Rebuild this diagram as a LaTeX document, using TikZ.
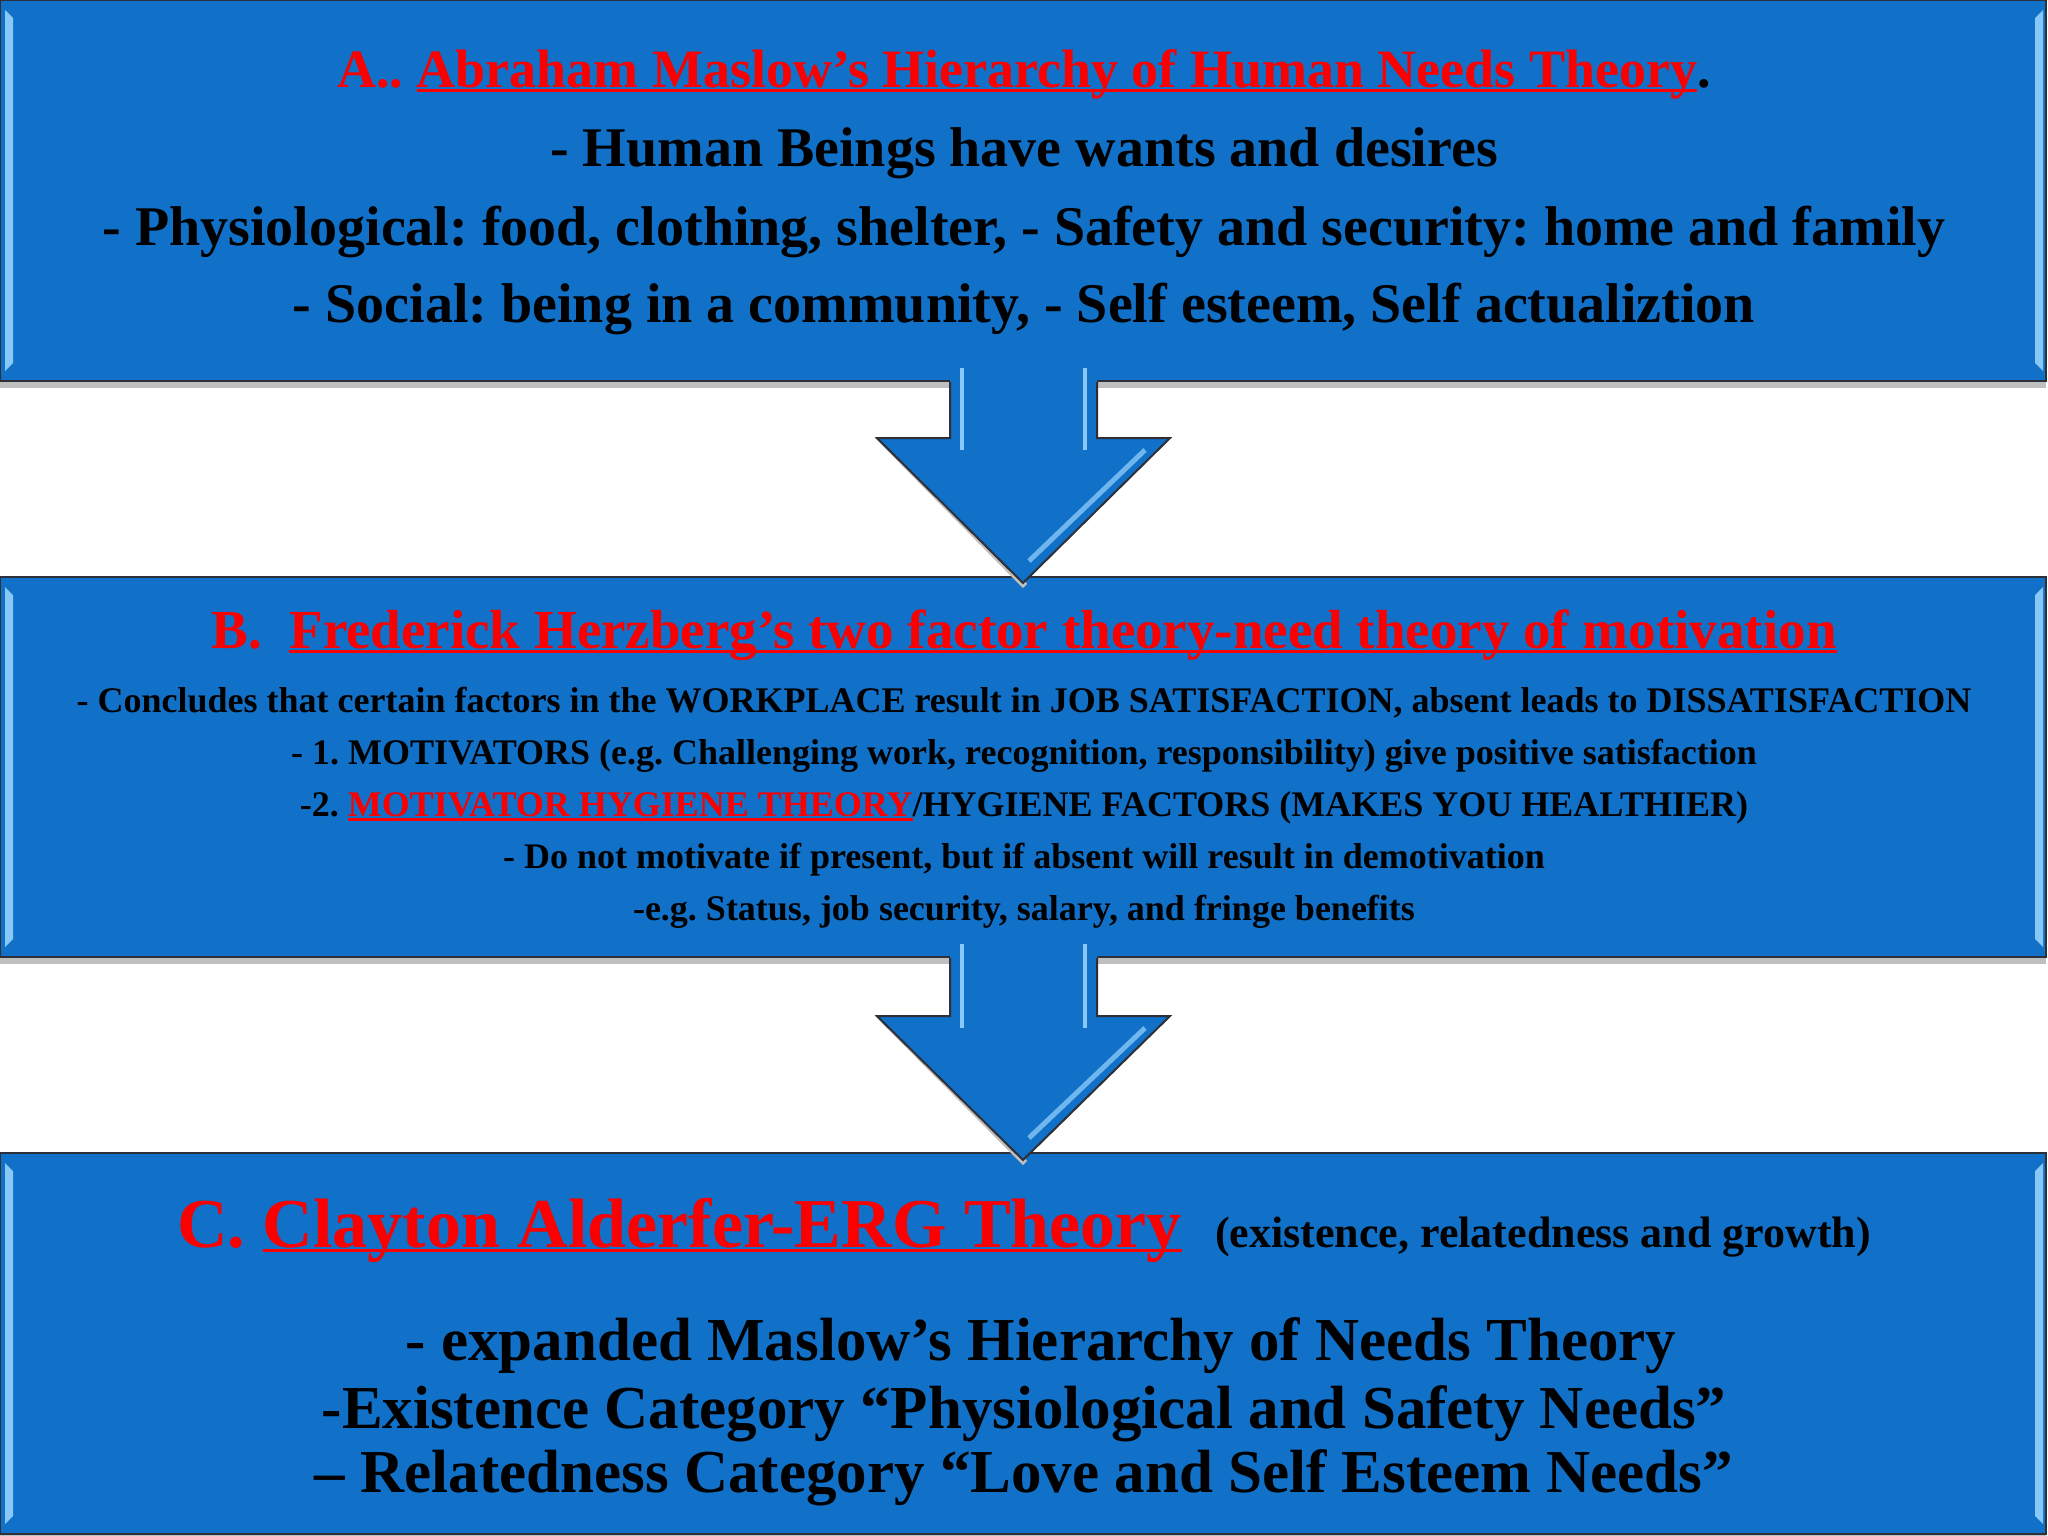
\documentclass[tikz,border=0pt]{standalone}
\usepackage{fontspec}
\setmainfont{Liberation Serif}
\usepackage{tikz}
\frenchspacing

\definecolor{boxblue}{RGB}{17,112,199}
\definecolor{edgelight}{RGB}{135,200,248}
\definecolor{edgedark}{RGB}{45,48,56}
\definecolor{titlered}{RGB}{250,0,0}

% thick underline, close under the baseline
\newsavebox{\ulbox}
\newcommand{\thickul}[1]{\sbox{\ulbox}{#1}\rlap{\rule[-4.5pt]{\wd\ulbox}{3pt}}\usebox{\ulbox}}

\tikzset{
  panel/.style={fill=boxblue, draw=edgedark, line width=2pt},
  txtline/.style={anchor=base, inner sep=0pt, text=black},
  titleA/.style={txtline, font=\fontsize{54}{60}\selectfont\bfseries},
  lineA/.style={txtline, font=\fontsize{56}{62}\selectfont\bfseries},
  titleB/.style={txtline, font=\fontsize{55}{60}\selectfont\bfseries},
  lineB/.style={txtline, font=\fontsize{36}{40}\selectfont\bfseries},
  titleC/.style={txtline, font=\fontsize{70}{76}\selectfont\bfseries},
  noteC/.style={txtline, font=\fontsize{44}{48}\selectfont\bfseries},
  lineC/.style={txtline, font=\fontsize{61}{66}\selectfont\bfseries}
}

\begin{document}
\begin{tikzpicture}[x=1pt,y=1pt,yscale=-1]
\useasboundingbox (0,0) rectangle (2048,1536);
\fill[white] (0,0) rectangle (2048,1536);

% three panels
\foreach \ya/\yb in {0/381, 577/957, 1153/1534} {
  \fill[black!25] (0,\yb) rectangle (2046,\yb+7);
  \draw[panel] (0,\ya) rectangle (2046,\yb);
  \fill[edgelight] (5,\ya+10) -- (13,\ya+18) -- (13,\yb-18) -- (5,\yb-10) -- cycle;
  \fill[edgelight] (2043,\ya+10) -- (2035,\ya+18) -- (2035,\yb-18) -- (2043,\yb-10) -- cycle;
}

% block arrows between the panels
\foreach \yb/\yh/\yt in {381/438/583, 957/1016/1160} {
  \draw[black!25, line width=6pt] (952,\yb+4) -- (952,\yh+3) -- (882,\yh+3) -- (1025,\yt+3);
  \fill[boxblue] (950,\yb-14) -- (950,\yh) -- (877,\yh) -- (1023,\yt) -- (1170,\yh) -- (1097,\yh) -- (1097,\yb-14) -- cycle;
  \draw[edgedark, line width=2pt] (950,\yb+1) -- (950,\yh) -- (877,\yh) -- (1023,\yt) -- (1170,\yh) -- (1097,\yh) -- (1097,\yb+1);
  \draw[edgelight, line width=4pt] (962,\yb-13) -- (962,\yh+12);
  \draw[edgelight, line width=4pt] (1085,\yb-13) -- (1085,\yh+12);
  \draw[edgelight!80!boxblue, line width=5pt] (1145,\yh+12) -- (1029,\yt-22);
}

% panel A
\node[titleA] (aTitle) at (1024,88) {\textcolor{titlered}{A.. \thickul{Abraham Maslow’s Hierarchy of Human Needs Theory}}.};
\node[lineA] (aHuman) at (1024,166) {- Human Beings have wants and desires};
\node[lineA] (aPhys) at (1024,245) {- Physiological: food, clothing, shelter, - Safety and security: home and family};
\node[lineA] (aSocial) at (1024,322) {- Social: being in a community, - Self esteem, Self actualiztion};

% panel B
\node[titleB] (bTitle) at (1024,648) {\textcolor{titlered}{B.\ \ \thickul{Frederick Herzberg’s two factor theory-need theory of motivation}}};
\node[lineB] (bConcl) at (1024,712) {- Concludes that certain factors in the WORKPLACE result in JOB SATISFACTION, absent leads to DISSATISFACTION};
\node[lineB] (bMotiv) at (1024,764) {- 1. MOTIVATORS (e.g. Challenging work, recognition, responsibility) give positive satisfaction};
\node[lineB] (bHyg) at (1024,816) {-2. \textcolor{titlered}{\thickul{MOTIVATOR HYGIENE THEORY}}/HYGIENE FACTORS (MAKES YOU HEALTHIER)};
\node[lineB] (bDemot) at (1024,868) {- Do not motivate if present, but if absent will result in demotivation};
\node[lineB] (bStatus) at (1024,920) {-e.g. Status, job security, salary, and fringe benefits};

% panel C
\node[titleC, anchor=base east] (cTitle) at (1182,1247) {\textcolor{titlered}{C. \thickul{Clayton Alderfer-ERG Theory}}};
\node[noteC, anchor=base west] (cNote) at ([xshift=33pt]cTitle.base east) {(existence, relatedness and growth)};
\node[lineC] (cExpand) at (1041,1360) {- expanded Maslow’s Hierarchy of Needs Theory};
\node[lineC] (cExist) at (1024,1428) {-Existence Category “Physiological and Safety Needs”};
\node[lineC] (cRelate) at (1024,1492) {– Relatedness Category “Love and Self Esteem Needs”};
\end{tikzpicture}
\end{document}
